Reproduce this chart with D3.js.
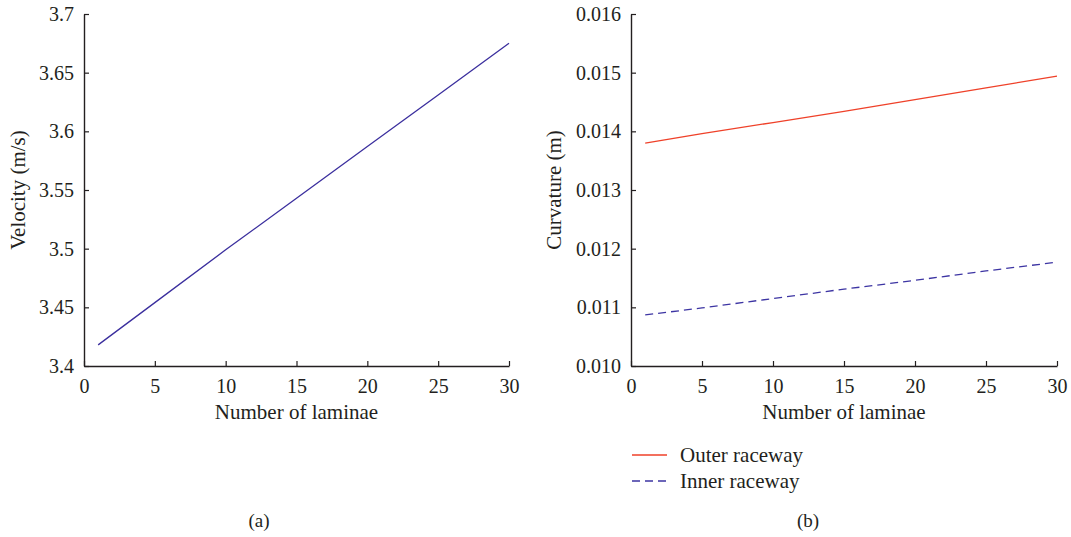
<!DOCTYPE html>
<html>
<head>
<meta charset="utf-8">
<script src="https://cdn.jsdelivr.net/npm/d3@7"></script>
<style>
  html, body { margin: 0; padding: 0; background: #fff; }
  svg { display: block; }
  text { font-family: "Liberation Serif", "DejaVu Serif", serif; fill: #231f20; }
</style>
</head>
<body>
<svg id="chart" width="1071" height="537"></svg>
<script>
// Number of laminae at which values are read
const laminae = [1, 5, 10, 15, 20, 25, 30];
// (a) rolling element velocity, m/s
const velocity = [3.418, 3.454, 3.499, 3.543, 3.587, 3.631, 3.675];
// (b) curvature of outer and inner raceways, m
const outerRaceway = [0.01380, 0.01396, 0.01415, 0.01434, 0.01454, 0.01474, 0.01494];
const innerRaceway = [0.01087, 0.01099, 0.01115, 0.01131, 0.01146, 0.01162, 0.01177];

const xTicks = [0, 5, 10, 15, 20, 25, 30];
const velocityTicks = [3.4, 3.45, 3.5, 3.55, 3.6, 3.65, 3.7];
const curvatureTicks = [0.010, 0.011, 0.012, 0.013, 0.014, 0.015, 0.016];

const seriesB = [
  { name: "Outer raceway", values: outerRaceway, color: "#ef4129", dash: null },
  { name: "Inner raceway", values: innerRaceway, color: "#3d35a3", dash: "8,5" }
];

const svg = d3.select("#chart");
const axisColor = "#231f20";
const serif = "Liberation Serif, DejaVu Serif, serif";
const plotTop = 14, plotBottom = 366;

function panel(opts) {
  const g = svg.append("g");
  const x = d3.scaleLinear().domain([0, 30]).range([opts.left, opts.right]);
  const y = d3.scaleLinear().domain(opts.yDomain).range([plotBottom, plotTop]);

  const xAxis = g.append("g")
    .attr("transform", `translate(0,${plotBottom})`)
    .call(d3.axisBottom(x).tickValues(xTicks).tickSizeInner(-5).tickSizeOuter(0).tickPadding(13));
  const yAxis = g.append("g")
    .attr("transform", `translate(${opts.left},0)`)
    .call(d3.axisLeft(y).tickValues(opts.yTicks).tickFormat(opts.yFormat).tickSizeInner(-5).tickSizeOuter(0).tickPadding(10));

  [xAxis, yAxis].forEach(a => {
    a.attr("font-family", serif).attr("font-size", 20);
    a.select(".domain").attr("stroke", axisColor).attr("stroke-width", 1.4);
    a.selectAll(".tick line").attr("stroke", axisColor).attr("stroke-width", 1.2);
    a.selectAll(".tick text").attr("fill", axisColor);
  });
  xAxis.selectAll(".tick text").attr("dy", "0.71em");

  g.append("text")
    .attr("x", (opts.left + opts.right) / 2)
    .attr("y", 419)
    .attr("text-anchor", "middle")
    .style("font-size", "21px")
    .text("Number of laminae");

  g.append("text")
    .attr("transform", `translate(${opts.yTitleX},${(plotTop + plotBottom) / 2}) rotate(-90)`)
    .attr("text-anchor", "middle")
    .style("font-size", "21px")
    .text(opts.yTitle);

  return { g, x, y };
}

// (a) velocity
const a = panel({
  left: 84, right: 509, yDomain: [3.4, 3.7], yTicks: velocityTicks,
  yFormat: d3.format(""), yTitle: "Velocity (m/s)", yTitleX: 25
});
a.g.append("path")
  .datum(laminae.map((n, i) => [n, velocity[i]]))
  .attr("fill", "none")
  .attr("stroke", "#3b2f9e")
  .attr("stroke-width", 1.3)
  .attr("d", d3.line().x(d => a.x(d[0])).y(d => a.y(d[1])));

svg.append("text").attr("x", 259).attr("y", 527).attr("text-anchor", "middle")
  .style("font-size", "19px").text("(a)");

// (b) curvature
const b = panel({
  left: 631, right: 1057, yDomain: [0.010, 0.016], yTicks: curvatureTicks,
  yFormat: d3.format(".3f"), yTitle: "Curvature (m)", yTitleX: 561
});
seriesB.forEach(s => {
  b.g.append("path")
    .datum(laminae.map((n, i) => [n, s.values[i]]))
    .attr("fill", "none")
    .attr("stroke", s.color)
    .attr("stroke-width", 1.3)
    .attr("stroke-dasharray", s.dash)
    .attr("d", d3.line().x(d => b.x(d[0])).y(d => b.y(d[1])));
});

// legend
const legend = svg.append("g").attr("transform", "translate(632,455)");
seriesB.forEach((s, i) => {
  const row = legend.append("g").attr("transform", `translate(0,${i * 26})`);
  row.append("line").attr("x1", 0).attr("x2", 35).attr("y1", 0).attr("y2", 0)
    .attr("stroke", s.color).attr("stroke-width", 1.3).attr("stroke-dasharray", s.dash);
  row.append("text").attr("x", 48).attr("y", 7).style("font-size", "21px").text(s.name);
});

svg.append("text").attr("x", 808).attr("y", 527).attr("text-anchor", "middle")
  .style("font-size", "19px").text("(b)");
</script>
</body>
</html>
